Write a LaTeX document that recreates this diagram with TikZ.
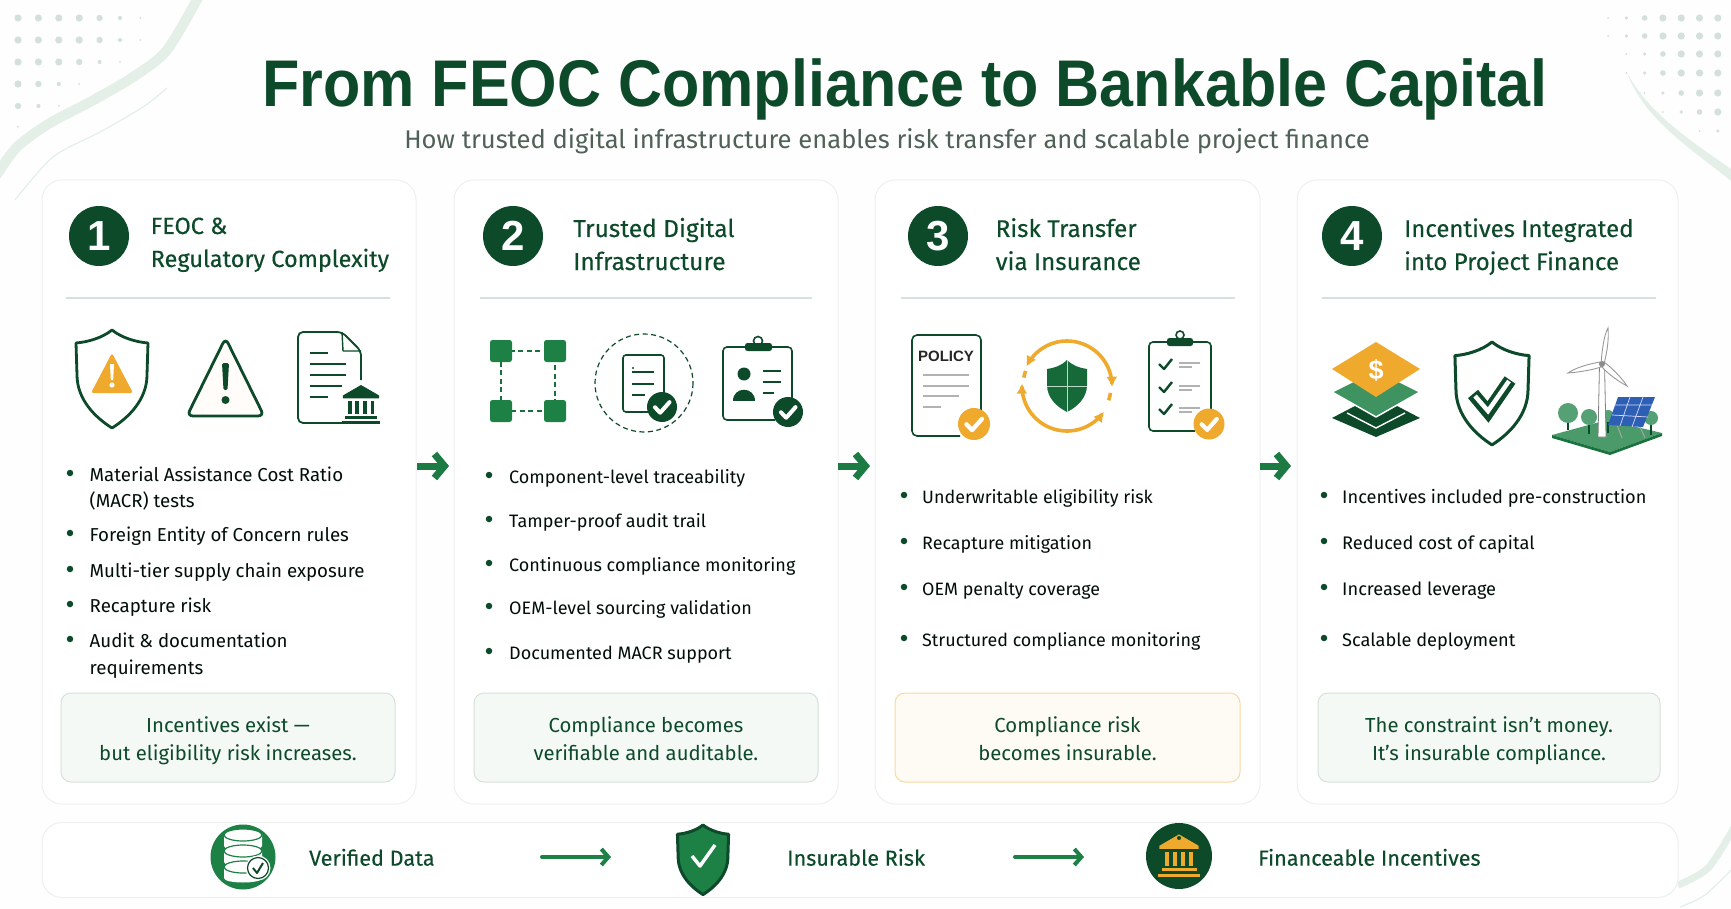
\documentclass[tikz,border=0pt]{standalone}
\usepackage{fontspec}
\setmainfont{Fira Sans}
\newfontfamily\titlefont{Liberation Sans}
\newfontfamily\bannerfont[FakeStretch=0.925]{Liberation Sans}
\newfontfamily\headfont[FakeBold=0.25]{Fira Sans}
\usetikzlibrary{arrows.meta,shapes.geometric}
\definecolor{deep}{HTML}{0C4A2A}
\definecolor{leaf}{HTML}{1D8045}
\definecolor{gold}{HTML}{EFAA2E}
\definecolor{mist}{HTML}{E4EFE8}
\definecolor{speck}{HTML}{D3E1DA}
\definecolor{rim}{HTML}{EDF1EE}
\definecolor{noteline}{HTML}{D5E2DA}
\definecolor{notefill}{HTML}{F5F9F6}
\definecolor{panel}{HTML}{2D5FB5}

% Small drawn parts that come back
\newcommand{\shieldline}{(0,0) .. controls (10,8) and (24,12) .. (36,13) -- (35,45) .. controls (35,70) and (16,88) .. (0,98) .. controls (-16,88) and (-35,70) .. (-35,45) -- (-36,13) .. controls (-24,12) and (-10,8) .. (0,0) -- cycle}
\newcommand{\checkbadge}[4]{%
  \begin{scope}[shift={(#1,#2)},scale=#3]
    \fill[#4] (0,0) circle (1);
    \draw[white, line width=#3*0.27pt, line cap=round, line join=round] (-.47,.02) -- (-.12,.38) -- (.5,-.32);
  \end{scope}}
\newcommand{\bankicon}[4]{%
  \begin{scope}[shift={(#1,#2)},scale=#3]
    \fill[#4] (-19,-9) -- (0,-20) -- (19,-9) -- (19,-6) -- (-19,-6) -- cycle;
    \foreach \cx in {-12,-4,4,12} \fill[#4] (\cx-2,-3) rectangle (\cx+2,11);
    \fill[#4] (-17,13) rectangle (17,16);
    \fill[#4] (-20,18) rectangle (20,21);
  \end{scope}}
\newcommand{\notetop}{\rule{0pt}{27pt}}

\tikzset{
  item/.style={anchor=mid west, inner sep=0, yshift=-5pt, text=black!80!deep, font=\fontsize{#1}{24}\selectfont},
  head/.style={anchor=base west, inner sep=0, text=deep, font=\headfont\fontsize{#1}{30}\selectfont}
}

\begin{document}
\begin{tikzpicture}[x=1pt,y=-1pt]

% Styles for boxes
\tikzstyle{card} = [rectangle, draw=rim, fill=white, line width=1pt, rounded corners=20pt, inner sep=0, outer sep=0]
\tikzstyle{note} = [rectangle, draw=noteline, fill=notefill, line width=1pt, rounded corners=10pt, inner sep=0, align=center, text=deep, font=\fontsize{20.3}{28}\selectfont]
\tikzstyle{num} = [circle, fill=deep, text=white, inner sep=0, minimum size=60pt, font=\titlefont\fontsize{42}{42}\selectfont\bfseries]
\tikzstyle{dot} = [circle, fill=deep, inner sep=0, minimum size=6.5pt]
\tikzstyle{foot} = [anchor=mid west, inner sep=0, yshift=-6pt, text=deep, font=\headfont\fontsize{21.6}{26}\selectfont]
\tikzstyle{flow} = [-{Straight Barb[length=10pt,width=24pt]}, leaf!90!deep, line width=7pt]
\tikzstyle{thinflow} = [-{Straight Barb[length=7pt,width=16pt]}, leaf, line width=4pt, line cap=round]

\useasboundingbox (0,0) rectangle (1731,909);
\fill[white!60!leaf!1] (0,0) rectangle (1731,909);
\clip (0,0) rectangle (1731,909);

% Corner decoration
\foreach \cy/\cn in {18/7,40/7,62/6,84/4,106/3,127/1}
  \foreach \i in {1,...,\cn}
    \fill[speck] ({18+20.4*(\i-1)},\cy) circle ({max(1,min(3.6,1+(\cn-\i)*1.1))});
\draw[mist, line width=10pt] plot[smooth] coordinates {(200,-6) (167,50) (133,77) (90,102) (50,123) (17,147) (-4,176)};
\draw[mist, line width=1.2pt] plot[smooth] coordinates {(167,88) (143,107) (100,132) (53,157) (15,200)};
\foreach \cy/\cs in {18/1,36/1,54/2,73/2,93/3,112/4,131/6}
  \foreach \i in {\cs,...,7}
    \fill[speck] ({1608+18.3*(\i-1)},\cy) circle ({max(1,min(3.6,.8+(\i-\cs)*1.0))});
\fill[mist] (1627,73) .. controls (1650,115) and (1690,140) .. (1735,172) -- (1735,184) .. controls (1690,148) and (1645,120) .. (1627,73) -- cycle;
\draw[mist, line width=7pt] plot[smooth] coordinates {(1678,885) (1708,868) (1735,826)};
\draw[mist, line width=1.2pt] plot[smooth] coordinates {(1680,907) (1705,895) (1735,866)};

% Cards
\node[card, minimum width=374pt, minimum height=624pt] (card1) at (229,492) {};
\node[card, minimum width=384pt, minimum height=624pt] (card2) at (646,492) {};
\node[card, minimum width=385pt, minimum height=624pt] (card3) at (1067.5,492) {};
\node[card, minimum width=381pt, minimum height=624pt] (card4) at (1487.5,492) {};
\node[card, minimum width=1636pt, minimum height=75pt] (bar) at (860,860) {};

% Numbers
\node[num] (num1) at (99,236) {1};
\node[num] (num2) at (513,236) {2};
\node[num] (num3) at (938,236) {3};
\node[num] (num4) at (1352,236) {4};

% Headings
\node[head=23.5] (head1a) at (150.5,234) {FEOC \&};
\node[head=23.5] (head1b) at (150.5,267) {Regulatory Complexity};
\node[head=24.5] (head2a) at (573,237) {Trusted Digital};
\node[head=24.5] (head2b) at (573,270) {Infrastructure};
\node[head=24.2] (head3a) at (995.5,237) {Risk Transfer};
\node[head=24.2] (head3b) at (995.5,270) {via Insurance};
\node[head=24] (head4a) at (1404,237) {Incentives Integrated};
\node[head=24] (head4b) at (1404,270) {into Project Finance};

\foreach \xa/\xb in {66/390,480/812,901/1235,1322/1656}
  \draw[noteline, line width=1.2pt] (\xa,298) -- (\xb,298);

% Bullets
\foreach \n/\y/\t in {a/474/Material Assistance Cost Ratio,b/500/(MACR) tests,c/534/Foreign Entity of Concern rules,d/570/Multi-tier supply chain exposure,e/605/Recapture risk,f/640/Audit \& documentation,g/667/requirements}
  \node[item=18.7] (item1\n) at (89.5,\y) {\t};
\foreach \y in {473,533,569,604,639}
  \node[dot] at (70,\y) {};
\foreach \n/\y/\t in {a/476/Component-level traceability,b/520/Tamper-proof audit trail,c/564/Continuous compliance monitoring,d/607/OEM-level sourcing validation,e/652/Documented MACR support}{
  \node[item=18] (item2\n) at (509,\y) {\t};
  \node[dot] at (489,\y-1) {};}
\foreach \n/\y/\t in {a/496/Underwritable eligibility risk,b/542/Recapture mitigation,c/588/OEM penalty coverage,d/639/Structured compliance monitoring}{
  \node[item=17.9] (item3\n) at (922,\y) {\t};
  \node[dot] at (904,\y-1) {};}
\foreach \n/\y/\t in {a/496/Incentives included pre-construction,b/542/Reduced cost of capital,c/588/Increased leverage,d/639/Scalable deployment}{
  \node[item=18.2] (item4\n) at (1342,\y) {\t};
  \node[dot] at (1324,\y-1) {};}

% Notes
\node[note, minimum width=334pt, minimum height=89pt] (note1) at (228,737.5) {\notetop Incentives exist —\\but eligibility risk increases.\strut};
\node[note, minimum width=344pt, minimum height=89pt] (note2) at (646,737.5) {\notetop Compliance becomes\\verifiable and auditable.\strut};
\node[note, draw=gold!45, fill=gold!5, minimum width=345pt, minimum height=89pt] (note3) at (1067.5,737.5) {\notetop Compliance risk\\becomes insurable.\strut};
\node[note, minimum width=342pt, minimum height=89pt] (note4) at (1489,737.5) {\notetop The constraint isn’t money.\\It’s insurable compliance.\strut};

% Arrows between cards
\coordinate (gap1a) at (417,466); \coordinate (gap1b) at (449,466);
\coordinate (gap2a) at (838,466); \coordinate (gap2b) at (870,466);
\coordinate (gap3a) at (1260,466); \coordinate (gap3b) at (1291,466);
\draw[flow] (gap1a) -- (gap1b);
\draw[flow] (gap2a) -- (gap2b);
\draw[flow] (gap3a) -- (gap3b);

% Card 1 icons
\begin{scope}[shift={(112,330)}]
  \draw[deep, line width=2.8pt, line join=round] \shieldline;
  \fill[gold, rounded corners=2.5pt] (0,23) -- (21,63) -- (-21,63) -- cycle;
  \fill[white] (-2,34) -- (2,34) -- (1.2,50) -- (-1.2,50) -- cycle;
  \fill[white] (0,55) circle (2.6);
\end{scope}
\draw[deep, line width=2.8pt, rounded corners=6pt, fill=gold!3] (225.5,338) -- (264,416) -- (187,416) -- cycle;
\fill[deep, rounded corners=1.5pt] (222,363) -- (229,363) -- (227.5,390) -- (223.5,390) -- cycle;
\fill[deep] (225.5,400) circle (4);
\draw[deep, line width=1.8pt, rounded corners=5pt] (345,423) -- (298,423) -- (298,332) -- (342,332) -- (361,351) -- (361,380);
\draw[deep, line width=1.4pt, line join=round] (342,332) -- (343,351) -- (361,351);
\foreach \xa/\xb/\y in {310/328/353,310/346/364,310/346/375,310/342/386,310/328/397}
  \draw[deep, line width=1.5pt] (\xa,\y) -- (\xb,\y);
\bankicon{361}{404}{.95}{deep}

% Card 2 icons
\draw[leaf!70!deep, line width=1.5pt, dash pattern=on 5pt off 3.5pt] (501,351) -- (555,351) -- (555,411) -- (501,411) -- cycle;
\foreach \sx/\sy in {501/351,555/351,501/411,555/411}
  \fill[leaf, rounded corners=2.5pt] (\sx-11,\sy-11) rectangle (\sx+11,\sy+11);
\draw[deep, line width=1.2pt, dash pattern=on 5pt off 3.5pt] (644,383) circle (49);
\draw[deep, line width=1.6pt, rounded corners=3pt] (664,395) -- (664,355) -- (623,355) -- (623,412) -- (650,412);
\foreach \xa/\xb/\y in {632/654/372,632/654/384,632/645/395}
  \draw[deep, line width=1.5pt] (\xa,\y) -- (\xb,\y);
\fill[deep] (633,368) circle (1.2);
\checkbadge{662}{407}{15}{deep}
\draw[deep, line width=1.6pt, rounded corners=4pt] (775,420) -- (723,420) -- (723,347) -- (792,347) -- (792,400);
\draw[deep, line width=1.6pt] (758,341) circle (4.5);
\fill[deep, rounded corners=2.5pt] (745,343) rectangle (772,351);
\fill[deep] (744,374) circle (6.5);
\fill[deep] (733,401) .. controls (733,386) and (755,386) .. (755,401) -- cycle;
\foreach \xa/\xb/\y in {763/781/371,763/781/382,763/774/393}
  \draw[deep, line width=1.4pt] (\xa,\y) -- (\xb,\y);
\checkbadge{788}{412}{15}{deep}

% Card 3 icons
\draw[deep, line width=1.6pt, rounded corners=5pt] (960,436) -- (912,436) -- (912,335) -- (981,335) -- (981,410);
\node[inner sep=0, font=\titlefont\fontsize{15}{15}\selectfont\bfseries, text=black!85] (policy) at (946,356) {POLICY};
\foreach \xa/\xb/\y in {923/969/375,923/969/386,923/959/396,923/941/407}
  \draw[black!30, line width=1.2pt] (\xa,\y) -- (\xb,\y);
\checkbadge{974}{424}{16}{gold}
\draw[gold, line width=3.6pt, {Latex[length=10pt,width=11pt]}-{Latex[length=10pt,width=11pt]}] plot[domain=206:361,samples=40] ({1067+45*cos(\x)},{386+45*sin(\x)});
\draw[gold, line width=3.6pt, {Latex[length=10pt,width=11pt]}-{Latex[length=10pt,width=11pt]}] plot[domain=35:183,samples=40] ({1067+45*cos(\x)},{386+45*sin(\x)});
\draw[gold, line width=3.6pt] plot[domain=9:19,samples=5] ({1067+44*cos(\x)},{386+44*sin(\x)});
\draw[gold, line width=3.6pt] plot[domain=191:200,samples=5] ({1067+44*cos(\x)},{386+44*sin(\x)});
\fill[leaf!60!deep] (1067,360) .. controls (1073,366) and (1080,368) .. (1087,369) -- (1087,385) .. controls (1087,398) and (1077,407) .. (1067,412) .. controls (1057,407) and (1047,398) .. (1047,385) -- (1047,369) .. controls (1054,368) and (1061,366) .. (1067,360) -- cycle;
\draw[white!70!leaf, line width=.6pt] (1067,360) -- (1067,412) (1047,386) -- (1087,386);
\draw[deep, line width=1.6pt, rounded corners=4pt] (1195,431) -- (1149,431) -- (1149,342) -- (1211,342) -- (1211,412);
\draw[deep, line width=1.6pt] (1180,335) circle (4);
\fill[deep, rounded corners=2.5pt] (1167,338) rectangle (1193,346);
\foreach \y in {364,387,409}{
  \draw[deep, line width=2.4pt, line join=round] (1159,\y) -- (1164,\y+5) -- (1172,\y-5);
  \draw[black!30, line width=1.1pt] (1179,\y-1) -- (1200,\y-1);
  \draw[black!30, line width=1.1pt] (1179,\y+3) -- (1192,\y+3);}
\checkbadge{1209}{424}{15.5}{gold}

% Card 4 icons
\fill[deep] (1332,418) -- (1376,395) -- (1420,418) -- (1376,437) -- cycle;
\draw[white, line width=1.4pt] (1347,413) -- (1376,428) -- (1405,413);
\fill[leaf!85!white, draw=white, line width=1.5pt, line join=round] (1332,392) -- (1376,370) -- (1420,392) -- (1376,417) -- cycle;
\fill[gold] (1376,397) -- (1332,369) -- (1376,342) -- (1420,369) -- cycle;
\node[inner sep=0, text=white, font=\titlefont\fontsize{27}{27}\selectfont\bfseries] (dollar) at (1376,370) {\$};
\begin{scope}[shift={(1492,342)},xscale=1.03,yscale=1.05]
  \draw[deep, line width=3pt, line join=round] \shieldline;
\end{scope}
\draw[deep, line width=13pt, line join=miter] (1473,394) -- (1488,412) -- (1510,380);
\draw[white, line width=4.5pt, line join=miter] (1475,396) -- (1488,411) -- (1509,381);
\fill[leaf!80] (1552,435) -- (1607,420) -- (1662,433) -- (1610,452) -- cycle;
\fill[leaf!90!black] (1552,435) -- (1610,452) -- (1662,433) -- (1662,436) -- (1610,455) -- (1552,438) -- cycle;
\foreach \tx/\ty/\tr in {1568/413/10,1589/417/8,1651/418/7,1608/416/6}{
  \draw[deep, line width=1.2pt] (\tx,\ty) -- (\tx,\ty+17);
  \fill[leaf!75] (\tx,\ty) circle (\tr);}
\draw[black!35, line width=1pt] (1617,425) -- (1622,438) (1640,427) -- (1645,438);
\fill[panel] (1618,397) -- (1655,397) -- (1643,427) -- (1608,425) -- cycle;
\draw[white!85!blue, line width=.7pt] (1615,405) -- (1652,405) (1612,415) -- (1648,417) (1630,397) -- (1620,426) (1643,397) -- (1632,427);
\fill[white, draw=black!50, line width=.8pt] (1599.5,363) -- (1604.5,363) -- (1606,437) -- (1598,437) -- cycle;
\draw[white!60!black, fill=white, line width=.9pt] (1601,364) .. controls (1602,350) and (1604,335) .. (1608,328) .. controls (1609,340) and (1607,352) .. (1604,364) -- cycle;
\draw[white!60!black, fill=white, line width=.9pt] (1600,362) .. controls (1588,364) and (1575,368) .. (1568,373) .. controls (1580,372) and (1592,370) .. (1601,367) -- cycle;
\draw[white!60!black, fill=white, line width=.9pt] (1604,362) .. controls (1612,368) and (1622,378) .. (1627,386) .. controls (1618,381) and (1608,374) .. (1602,367) -- cycle;
\fill[black!45] (1602,364) circle (3);

% Bottom row
\fill[leaf] (243,857) circle (32.5);
\foreach \cy in {835,851,867}{
  \fill[white] (224,\cy) -- (224,\cy+11) .. controls (224,\cy+17) and (262,\cy+17) .. (262,\cy+11) -- (262,\cy) -- cycle;
  \draw[leaf, line width=1.2pt, fill=white] (243,\cy) ellipse (19 and 6);}
\fill[white] (258,868) circle (12.5);
\draw[deep, line width=1.2pt, fill=white] (258,868) circle (10.5);
\draw[deep, line width=2pt, line join=round] (253,868) -- (257,873) -- (263,863);
\node[foot] (verified) at (309,857) {Verified Data};
\begin{scope}[shift={(703,825)},scale=.71]
  \draw[deep, line width=3pt, fill=leaf, line join=round] \shieldline;
\end{scope}
\draw[white, line width=3.5pt, line join=round] (692,856) -- (700,866) -- (715,845);
\node[foot] (insurable) at (787,857) {Insurable Risk};
\fill[deep] (1179,856) circle (33);
\bankicon{1179}{855}{1.03}{gold}
\fill[deep] (1179,838) circle (2);
\node[foot] (financeable) at (1258,857) {Financeable Incentives};
\coordinate (stepa) at (542,857); \coordinate (stepb) at (611,857);
\coordinate (stepc) at (1015,857); \coordinate (stepd) at (1084,857);
\draw[thinflow] (stepa) -- (stepb);
\draw[thinflow] (stepc) -- (stepd);

% Title
\node[anchor=base, inner sep=0, text=deep, font=\bannerfont\fontsize{66}{70}\selectfont\bfseries] (title) at (905,107) {From FEOC Compliance to Bankable Capital};
\node[anchor=base, inner sep=0, text=black!60!deep!70, font=\fontsize{25.6}{30}\selectfont] (subtitle) at (887,149) {How trusted digital infrastructure enables risk transfer and scalable project finance};

\end{tikzpicture}
\end{document}
